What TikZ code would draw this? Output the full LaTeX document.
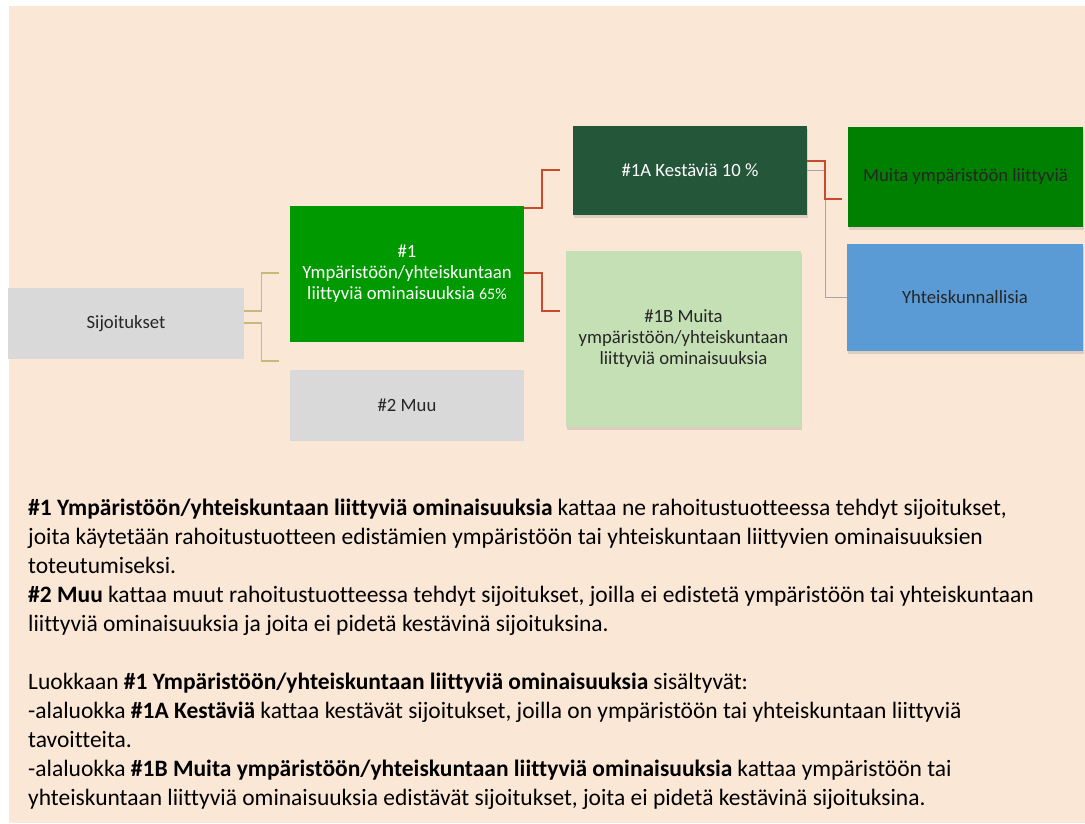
\documentclass[tikz,border=0pt]{standalone}
\usepackage{fontspec}
\setmainfont{Carlito}[Ligatures=NoCommon]
\usetikzlibrary{shadows}
\definecolor{beige}{HTML}{FBE7D6}
\definecolor{gA}{HTML}{009900}
\definecolor{gB}{HTML}{245639}
\definecolor{gC}{HTML}{C5E0B4}
\definecolor{gD}{HTML}{008000}
\definecolor{bl}{HTML}{5B9BD5}
\definecolor{gr}{HTML}{D9D9D9}
\definecolor{tanl}{HTML}{C8B87A}
\definecolor{redl}{HTML}{C94A2C}
\definecolor{greyl}{HTML}{A6A6A6}
\tikzset{
  box/.style={draw=none, inner sep=0pt, align=center, font=\fontsize{18.7}{21}\selectfont},
  shad/.style={drop shadow={shadow xshift=1pt, shadow yshift=-3pt, opacity=0.25}},
  tanc/.style={draw=tanl, line width=1.4pt},
  redc/.style={draw=redl, line width=1.6pt},
  greyc/.style={draw=greyl, line width=1.4pt},
}
\begin{document}
\begin{tikzpicture}[x=1pt,y=-1pt]
\fill[white] (0,0) rectangle (1085,823);
\useasboundingbox (0,0) rectangle (1085,823);
\fill[beige] (9,6) rectangle (1085,823);

\node[box, fill=gr, text=black!85, minimum width=236pt, minimum height=71pt] (sij) at (126,323.5) {Sijoitukset};
\node[box, fill=gA, text=white, minimum width=234pt, minimum height=136pt] (n1) at (407,274)
  {\#1\\Ympäristöön/yhteiskuntaan\\liittyviä ominaisuuksia {\fontsize{16}{21}\selectfont 65\%}};
\node[box, fill=gr, text=black!85, minimum width=234pt, minimum height=71pt] (n2) at (407,405.5) {\#2 Muu};
\node[box, shad, fill=gB, text=white, minimum width=234pt, minimum height=89pt] (n1a) at (690,170.5) {\#1A Kestäviä 10 \%};
\node[box, shad, fill=gC, text=black!85, minimum width=235pt, minimum height=176pt] (n1b) at (683.5,339)
  {\#1B Muita\\ympäristöön/yhteiskuntaan\\liittyviä ominaisuuksia};
\node[box, shad, fill=gD, text=black!85, minimum width=235pt, minimum height=100pt] (muita) at (965.5,177) {Muita ympäristöön liittyviä};
\node[box, shad, fill=bl, text=black!85, minimum width=236pt, minimum height=107pt] (yht) at (965,297.5) {Yhteiskunnallisia};

\coordinate (c1) at (279,273);
\coordinate (c2) at (279,361);
\coordinate (c3) at (560,170);
\coordinate (c4) at (560,311);
\coordinate (c5) at (842,199);

\draw[tanc] ([yshift=12.5pt]sij.east) -- ++(17,0) |- (c1);
\draw[tanc] ([yshift=0.5pt]sij.east) -- ++(17,0) |- (c2);
\draw[redc] ([yshift=66pt]n1.east) -- ++(18,0) |- (c3);
\draw[redc] ([yshift=1pt]n1.east) -- ++(18,0) |- (c4);
\draw[greyc] (n1a.east) -- ++(18,0) |- (yht.west);
\draw[redc] ([yshift=9.5pt]n1a.east) -- ++(18,0) |- (c5);

\node[anchor=north west, inner sep=0pt, align=left, font=\fontsize{23.5}{29}\selectfont] (txt) at (28,499)
{\textbf{\#1 Ympäristöön/yhteiskuntaan liittyviä ominaisuuksia} kattaa ne rahoitustuotteessa tehdyt sijoitukset,\\
joita käytetään rahoitustuotteen edistämien ympäristöön tai yhteiskuntaan liittyvien ominaisuuksien\\
toteutumiseksi.\\
\textbf{\#2 Muu} kattaa muut rahoitustuotteessa tehdyt sijoitukset, joilla ei edistetä ympäristöön tai yhteiskuntaan\\
liittyviä ominaisuuksia ja joita ei pidetä kestävinä sijoituksina.\\[29pt]
Luokkaan \textbf{\#1 Ympäristöön/yhteiskuntaan liittyviä ominaisuuksia} sisältyvät:\\
-alaluokka \textbf{\#1A Kestäviä} kattaa kestävät sijoitukset, joilla on ympäristöön tai yhteiskuntaan liittyviä\\
tavoitteita.\\
-alaluokka \textbf{\#1B Muita ympäristöön/yhteiskuntaan liittyviä ominaisuuksia} kattaa ympäristöön tai\\
yhteiskuntaan liittyviä ominaisuuksia edistävät sijoitukset, joita ei pidetä kestävinä sijoituksina.};
\end{tikzpicture}
\end{document}
